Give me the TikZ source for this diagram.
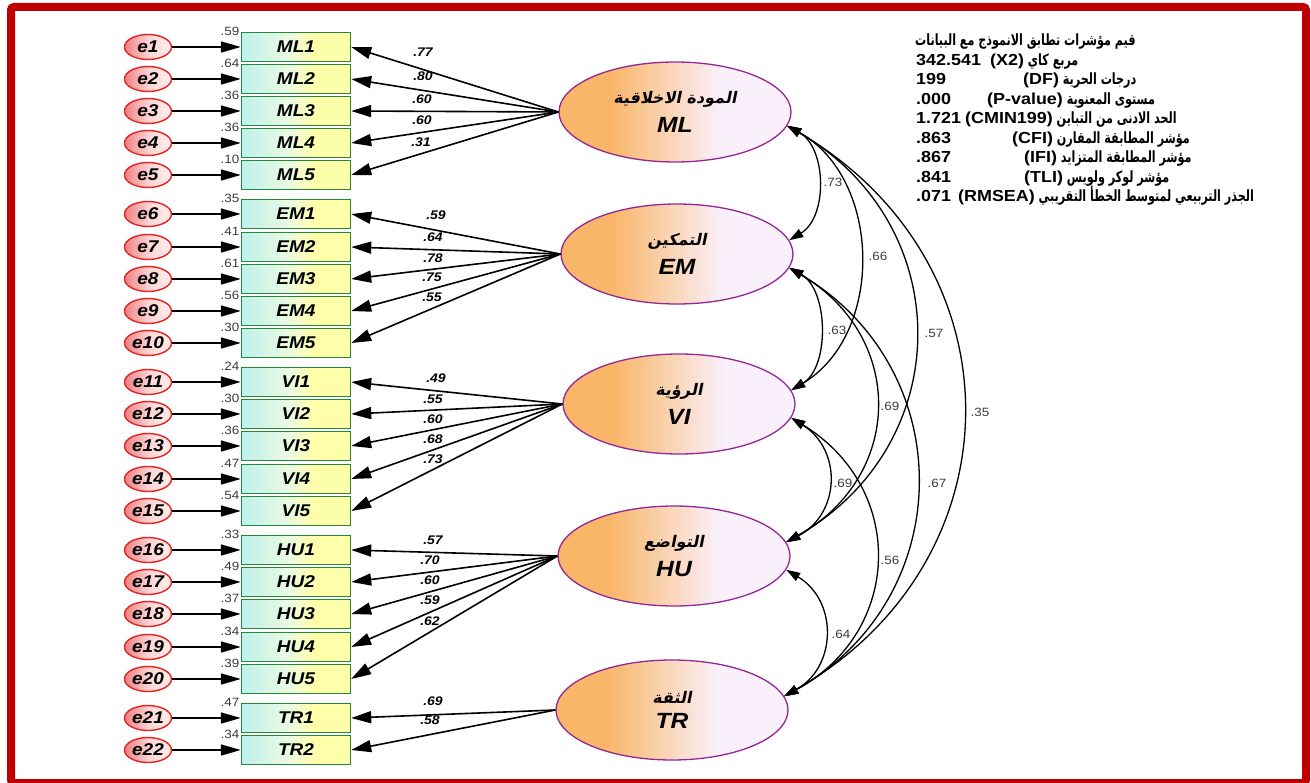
\documentclass[tikz,border=0pt]{standalone}
\usepackage{fontspec}
\setmainfont[FakeStretch=1.12]{Liberation Sans}
\newfontfamily\arabicfont[Script=Arabic,FakeStretch=0.72]{DejaVu Sans}
\newfontfamily\arabicsl[Script=Arabic,FakeSlant=0.2]{DejaVu Sans}
\TeXXeTstate=1
\usetikzlibrary{arrows.meta,shapes.geometric}
\definecolor{framered}{RGB}{192,0,0}
\definecolor{latL}{RGB}{249,182,104}
\definecolor{latR}{RGB}{250,240,252}
\definecolor{latborder}{RGB}{145,40,150}
\definecolor{boxL}{RGB}{190,240,236}
\definecolor{boxM}{RGB}{235,250,225}
\definecolor{boxR}{RGB}{255,255,170}
\definecolor{boxborder}{RGB}{40,135,55}
\definecolor{errL}{RGB}{240,135,135}
\definecolor{errM}{RGB}{252,215,215}
\definecolor{errR}{RGB}{255,238,238}
\definecolor{errborder}{RGB}{228,35,35}
\definecolor{labgray}{RGB}{60,60,60}
\pgfdeclarehorizontalshading{latshade}{100bp}{color(0bp)=(latL); color(25bp)=(latL); color(36bp)=(latL); color(60bp)=(latR); color(100bp)=(latR)}
\pgfdeclarehorizontalshading{boxshade}{100bp}{color(0bp)=(boxL); color(25bp)=(boxL); color(47bp)=(boxM); color(58bp)=(boxR); color(100bp)=(boxR)}
\pgfdeclarehorizontalshading{errshade}{100bp}{color(0bp)=(errL); color(27bp)=(errL); color(52bp)=(errM); color(75bp)=(errR); color(100bp)=(errR)}
\tikzset{
  errnode/.style={ellipse, draw=errborder, line width=1.4pt, shade, shading=errshade,
    minimum width=47pt, minimum height=25pt, inner sep=0pt,
    font=\bfseries\itshape\fontsize{17}{17}\selectfont},
  obsbox/.style={rectangle, draw=boxborder, line width=1.4pt, shade, shading=boxshade,
    minimum width=109pt, minimum height=29pt, inner sep=0pt,
    font=\bfseries\itshape\fontsize{17}{17}\selectfont},
  latent/.style={ellipse, draw=latborder, line width=1.3pt, shade, shading=latshade,
    minimum width=232pt, minimum height=100pt, inner sep=0pt, align=center},
  errarrow/.style={-{Triangle[length=20pt,width=11pt]}, line width=1.6pt},
  loadarrow/.style={-{Triangle[length=20pt,width=12pt]}, line width=1.6pt},
  cov/.style={{Triangle[length=14pt,width=9pt]}-{Triangle[length=14pt,width=9pt]}, line width=1.3pt},
  varlab/.style={text=labgray, font=\fontsize{12}{12}\selectfont, inner sep=0pt},
  loadlab/.style={font=\bfseries\itshape\fontsize{12.5}{12.5}\selectfont, inner sep=0pt},
  covlab/.style={text=labgray, font=\fontsize{12}{12}\selectfont, inner sep=0pt},
  fitnum/.style={anchor=base west, inner sep=0pt, font=\bfseries\fontsize{16}{16}\selectfont},
  fitlab/.style={anchor=base west, inner sep=0pt, font=\arabicfont\bfseries\fontsize{15.5}{15.5}\selectfont},
}
\newcommand{\lat}[1]{{\normalfont\bfseries\fontsize{16}{16}\selectfont #1}}
\newcommand{\arl}[1]{{\arabicsl\bfseries\fontsize{16}{16}\selectfont\beginR #1\endR}}
\newcommand{\enl}[1]{{\bfseries\itshape\fontsize{22}{22}\selectfont #1}}
\begin{document}
\begin{tikzpicture}[x=1pt,y=-1pt]
\useasboundingbox (0,0) rectangle (1311,783);
\fill[white] (0,0) rectangle (1311,783);
\draw[framered, line width=8pt, rounded corners=3pt] (11,7) rectangle (1306,783);

% latent variables
\node[latent] (ML) at (675,112) {\arl{المودة الاخلاقية}\\[9pt]\enl{ML}};
\node[latent] (EM) at (677,254) {\arl{التمكين}\\[9pt]\enl{EM}};
\node[latent] (VI) at (679,404) {\arl{الرؤية}\\[9pt]\enl{VI}};
\node[latent] (HU) at (674,556) {\arl{التواضع}\\[9pt]\enl{HU}};
\node[latent] (TR) at (672,710) {\arl{الثقة}\\[9pt]\enl{TR}};

% indicators
\foreach \i/\y/\n/\L/\v/\ld/\lx/\ly in {
1/47/ML1/ML/.59/.77/423/52,
2/79/ML2/ML/.64/.80/423/76,
3/111/ML3/ML/.36/.60/422/99,
4/143/ML4/ML/.36/.60/422/120,
5/175/ML5/ML/.10/.31/421/142,
6/214/EM1/EM/.35/.59/436/215,
7/247/EM2/EM/.41/.64/433/237,
8/279/EM3/EM/.61/.78/433/258,
9/311/EM4/EM/.56/.75/432/277,
10/343/EM5/EM/.30/.55/432/297,
11/382/VI1/VI/.24/.49/436/378,
12/414/VI2/VI/.30/.55/433/399,
13/446/VI3/VI/.36/.60/433/419,
14/479/VI4/VI/.47/.68/433/439,
15/511/VI5/VI/.54/.73/433/459,
16/550/HU1/HU/.33/.57/433/540,
17/582/HU2/HU/.49/.70/430/560,
18/614/HU3/HU/.37/.60/430/580,
19/647/HU4/HU/.34/.59/430/600,
20/679/HU5/HU/.39/.62/430/621,
21/718/TR1/TR/.47/.69/433/701,
22/750/TR2/TR/.34/.58/430/720}{
  \node[errnode] (e\i) at (148,\y) {e\i};
  \node[obsbox] (\n) at (296,\y) {\n};
  \node[varlab] (v\i) at (230,\y-16) {\v};
  \draw[errarrow] (e\i) -- (\n);
  \draw[loadarrow] (\L.west) -- (\n.east);
  \node[loadlab] (l\i) at (\lx,\ly) {\ld};
}

% covariances
\draw[cov] (ML.-7) to[bend left=60, looseness=1.01] (EM.7);
\draw[cov] (ML.-7) to[bend left=60, looseness=1.05] (VI.7);
\draw[cov] (ML.-7) to[bend left=60, looseness=1.21] (HU.7);
\draw[cov] (ML.-7) to[bend left=60, looseness=1.22] (TR.7);
\draw[cov] (EM.-7) to[bend left=60, looseness=0.94] (VI.7);
\draw[cov] (EM.-7) to[bend left=60, looseness=1.26] (HU.7);
\draw[cov] (EM.-7) to[bend left=60, looseness=1.19] (TR.7);
\draw[cov] (VI.-7) to[bend left=60, looseness=1.25] (HU.7);
\draw[cov] (VI.-7) to[bend left=60, looseness=1.24] (TR.7);
\draw[cov] (HU.-7) to[bend left=60, looseness=1.22] (TR.7);
\node[covlab] (c1) at (833,182) {.73};
\node[covlab] (c2) at (878,256) {.66};
\node[covlab] (c3) at (837,330) {.63};
\node[covlab] (c4) at (934,333) {.57};
\node[covlab] (c5) at (890,406) {.69};
\node[covlab] (c6) at (980,412) {.35};
\node[covlab] (c7) at (843,483) {.69};
\node[covlab] (c8) at (937,483) {.67};
\node[covlab] (c9) at (890,560) {.56};
\node[covlab] (c10) at (841,634) {.64};

% fit indices
\node[fitlab] (f1) at (915,46) {\beginR قيم مؤشرات تطابق الانموذج مع البيانات\endR};
\node[fitnum] (n2) at (916,65.5) {342.541};
\node[fitlab] (f2) at (990,65.5) {\beginR مربع كاي \beginL\lat{(X2)}\endL\endR};
\node[fitnum] (n3) at (916,85) {199};
\node[fitlab] (f3) at (1023,85) {\beginR درجات الحرية \beginL\lat{(DF)}\endL\endR};
\node[fitnum] (n4) at (916,104.5) {.000};
\node[fitlab] (f4) at (987,104.5) {\beginR مستوى المعنوية \beginL\lat{(P-value)}\endL\endR};
\node[fitnum] (n5) at (916,124) {1.721};
\node[fitlab] (f5) at (965,124) {\beginR الحد الادنى من التباين \beginL\lat{(CMIN199)}\endL\endR};
\node[fitnum] (n6) at (916,143.5) {.863};
\node[fitlab] (f6) at (1012,143.5) {\beginR مؤشر المطابقة المقارن \beginL\lat{(CFI)}\endL\endR};
\node[fitnum] (n7) at (916,163) {.867};
\node[fitlab] (f7) at (1024,163) {\beginR مؤشر المطابقة المتزايد \beginL\lat{(IFI)}\endL\endR};
\node[fitnum] (n8) at (916,182.5) {.841};
\node[fitlab] (f8) at (1024,182.5) {\beginR مؤشر لوكر ولويس \beginL\lat{(TLI)}\endL\endR};
\node[fitnum] (n9) at (916,202) {.071};
\node[fitlab] (f9) at (958,202) {\beginR الجذر التربيعي لمتوسط الخطأ التقريبي \beginL\lat{(RMSEA)}\endL\endR};
\end{tikzpicture}
\end{document}
